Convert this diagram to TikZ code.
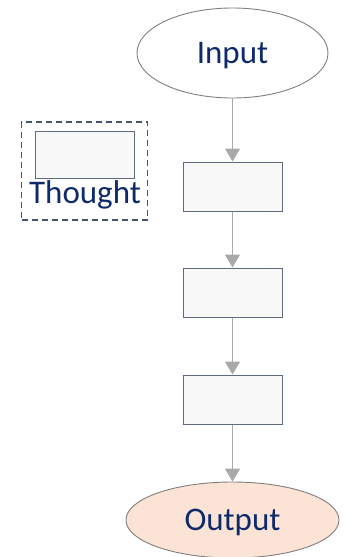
\documentclass[tikz,border=0pt]{standalone}
\usepackage{fontspec}
\setmainfont{Carlito}
\usetikzlibrary{arrows.meta,shapes.geometric}
\definecolor{txtblue}{HTML}{0F2A6B}
\definecolor{edgegray}{HTML}{7F7F7F}
\definecolor{boxedge}{HTML}{5E6A80}
\definecolor{boxfill}{HTML}{F8F8F9}
\definecolor{dashedge}{HTML}{44546A}
\definecolor{outfill}{HTML}{FBE4D6}
\definecolor{arrowgray}{HTML}{A9A9A9}
\begin{document}
\begin{tikzpicture}[x=1pt,y=-1pt,
  label font/.style={text=txtblue,font=\fontsize{33}{38}\selectfont},
  terminal/.style={ellipse,draw=edgegray,line width=0.9pt,inner sep=0pt,
    text depth=0pt,label font},
  stepbox/.style={draw=boxedge,fill=boxfill,line width=1pt,inner sep=0pt,
    minimum width=99pt,minimum height=49pt},
  flow/.style={draw=arrowgray,line width=1.4pt,
    -{Triangle[length=13pt,width=15pt]}}]
\useasboundingbox (0,0) rectangle (349,557);
% input and output terminals
\node[terminal,minimum width=191pt,minimum height=90pt] (in) at (232.5,53) {Input};
\node[terminal,fill=outfill,minimum width=213pt,minimum height=76pt] (out) at (232.5,520) {Output};
% reasoning steps
\node[stepbox] (s1) at (232.5,186.5) {};
\node[stepbox] (s2) at (232.5,292.5) {};
\node[stepbox] (s3) at (232.5,399.5) {};
% flow connectors
\draw[flow] (in) -- (s1);
\draw[flow] (s1) -- (s2);
\draw[flow] (s2) -- (s3);
\draw[flow] (s3) -- (out);
% legend
\node[draw=dashedge,dashed,dash pattern=on 6pt off 4pt,line width=1.2pt,
  minimum width=126pt,minimum height=98pt,inner sep=0pt] (leg) at (84.7,171) {};
\node[stepbox,minimum width=99pt,minimum height=47pt] (legbox) at (84.5,154.5) {};
\node[label font,inner sep=0pt,anchor=base] (legtxt) at (85,203) {Thought};
\end{tikzpicture}
\end{document}
